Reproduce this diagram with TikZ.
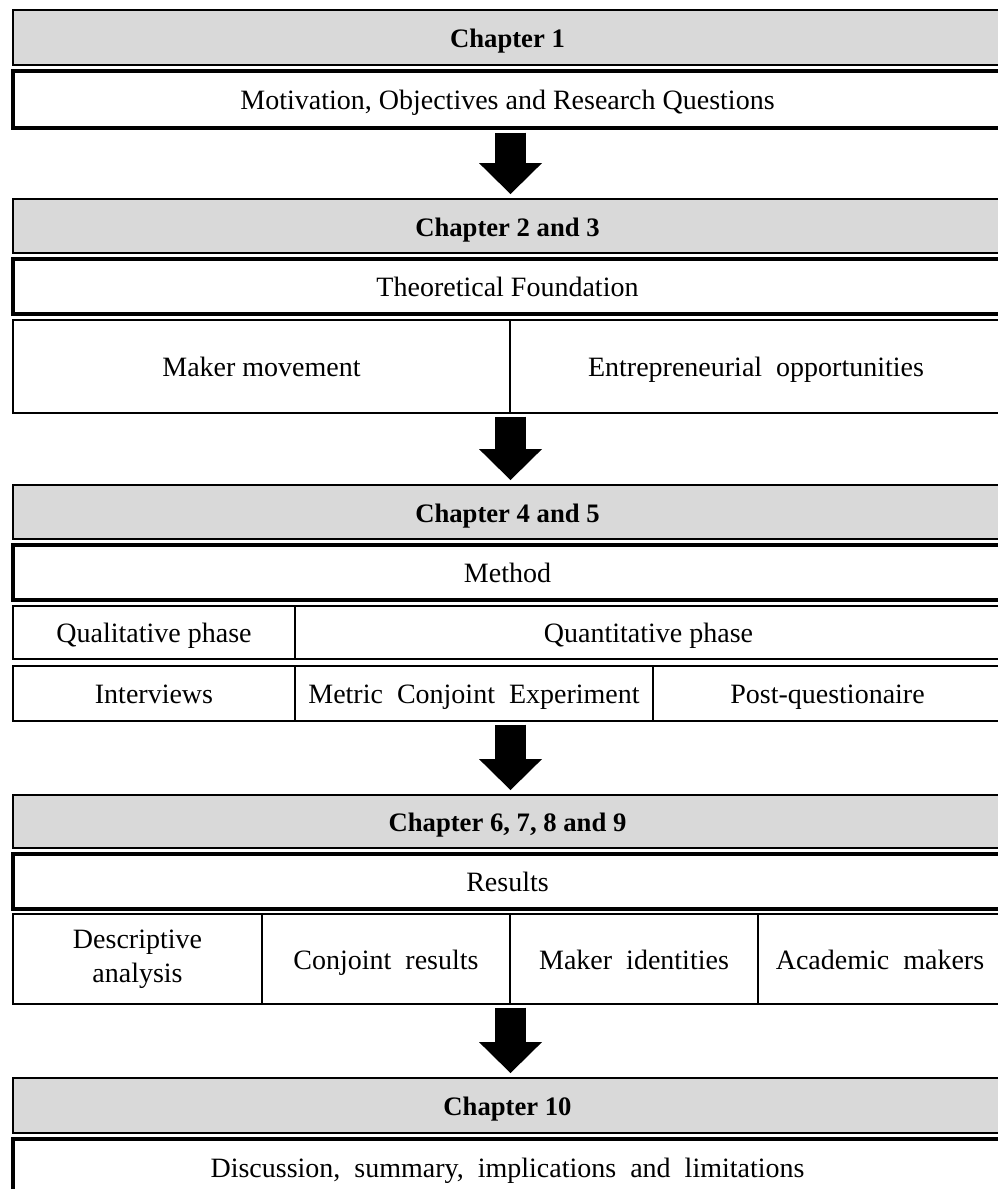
\documentclass[tikz,border=0pt]{standalone}
\usepackage{fontspec}
\setmainfont{Liberation Serif}
\usetikzlibrary{fit,arrows.meta}
\definecolor{headgray}{HTML}{D9D9D9}
% frame from (x1,y1) to (x2,y2) with its caption centred inside
% #1 frame style, #2 caption style, #3 name, #4..#7 corners, #8 caption
\newcommand{\stagebox}[8]{%
  \node[#1, fit={(#4,#5) (#6,#7)}] (#3) {};
  \node[#2] (#3-t) at (#3.center) {#8};}
\begin{document}
\begin{tikzpicture}[x=0.75pt,y=-0.75pt,
  box/.style={draw=black, inner sep=0pt, fill=white},
  hdr/.style={box, fill=headgray, line width=2.2pt},
  titlebox/.style={box, line width=3pt},
  cell/.style={box, line width=1.5pt},
  txt2/.style={inner sep=0pt, align=center, font=\fontsize{21}{25.5}\selectfont},
  txt/.style={txt2, text height=19pt, text depth=4pt},
  htxt/.style={inner sep=0pt, align=center, text height=19pt, text depth=4pt,
    font=\bfseries\fontsize{20}{23}\selectfont},
  flow/.style={draw=black, line width=23.25pt,
    -{Triangle[length=23.25pt,width=47.25pt,line width=0pt]},
    shorten <=2pt, shorten >=2.6pt}
]
\useasboundingbox (0,0) rectangle (997,1189);

% Chapter 1
\stagebox{hdr}{htxt}{c1}{13}{10}{1002}{65}{Chapter 1}
\stagebox{titlebox}{txt}{mot}{13}{71}{1002}{128}{Motivation, Objectives and Research Questions}

% Chapters 2 and 3
\stagebox{hdr}{htxt}{c23}{13}{199}{1002}{253}{Chapter 2 and 3}
\stagebox{titlebox}{txt}{theo}{13}{259}{1002}{314}{Theoretical Foundation}
\stagebox{cell}{txt}{maker}{13}{320}{510}{413}{Maker movement}
\stagebox{cell}{txt}{entre}{510}{320}{1002}{413}{Entrepreneurial\ \ opportunities}

% Chapters 4 and 5
\stagebox{hdr}{htxt}{c45}{13}{485}{1002}{539}{Chapter 4 and 5}
\stagebox{titlebox}{txt}{meth}{13}{545}{1002}{600}{Method}
\stagebox{cell}{txt}{qual}{13}{606}{295}{659}{Qualitative phase}
\stagebox{cell}{txt}{quant}{295}{606}{1002}{659}{Quantitative phase}
\stagebox{cell}{txt}{intv}{13}{666}{295}{721}{Interviews}
\stagebox{cell}{txt}{mce}{295}{666}{653}{721}{Metric\ \ Conjoint\ \ Experiment}
\stagebox{cell}{txt}{post}{653}{666}{1002}{721}{Post-questionaire}

% Chapters 6 to 9
\stagebox{hdr}{htxt}{c69}{13}{795}{1002}{848}{Chapter 6, 7, 8 and 9}
\stagebox{titlebox}{txt}{res}{13}{854}{1002}{909}{Results}
\stagebox{cell}{txt2}{desc}{13}{914}{262}{1004}{Descriptive\\analysis}
\stagebox{cell}{txt}{conj}{262}{914}{510}{1004}{Conjoint\ \ results}
\stagebox{cell}{txt}{ident}{510}{914}{758}{1004}{Maker\ \ identities}
\stagebox{cell}{txt}{acad}{758}{914}{1002}{1004}{Academic\ \ makers}

% Chapter 10
\stagebox{hdr}{htxt}{c10}{13}{1078}{1002}{1133}{Chapter 10}
\stagebox{titlebox}{txt}{disc}{13}{1139}{1002}{1196}{Discussion,\ \ summary,\ \ implications\ \ and\ \ limitations}

% block arrows between the stages
\coordinate (ax) at (510.5,0);
\draw[flow] (mot.south -| ax) -- (c23.north -| ax);
\draw[flow] (maker.south -| ax) -- (c45.north -| ax);
\draw[flow] (mce.south -| ax) -- (c69.north -| ax);
\draw[flow] (conj.south -| ax) -- (c10.north -| ax);
\end{tikzpicture}
\end{document}
